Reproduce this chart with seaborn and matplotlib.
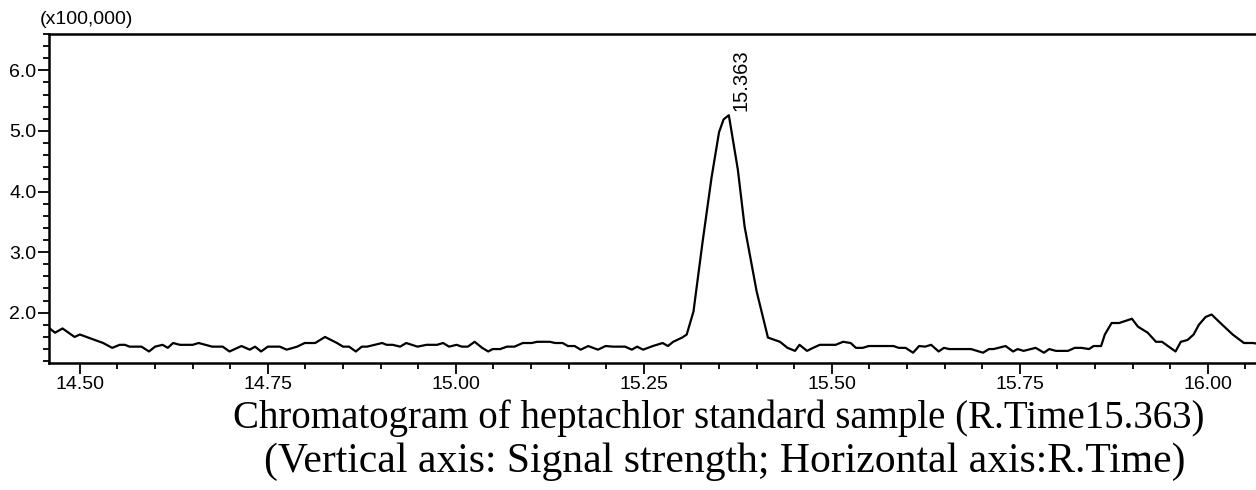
import numpy as np
import pandas as pd
import matplotlib
matplotlib.use("Agg")
import matplotlib.pyplot as plt
import seaborn as sns
from matplotlib.ticker import MultipleLocator, FormatStrFormatter

rtime = [14.459, 14.467, 14.477, 14.493, 14.500, 14.531, 14.543, 14.553, 14.560, 14.566,
         14.582, 14.592, 14.600, 14.610, 14.617, 14.624, 14.633, 14.650, 14.658, 14.676,
         14.690, 14.699, 14.715, 14.726, 14.733, 14.741, 14.750, 14.766, 14.775, 14.789,
         14.799, 14.813, 14.826, 14.842, 14.850, 14.858, 14.867, 14.875, 14.882, 14.902,
         14.908, 14.916, 14.926, 14.934, 14.949, 14.961, 14.975, 14.983, 14.991, 15.001,
         15.008, 15.016, 15.025, 15.035, 15.043, 15.049, 15.059, 15.068, 15.078, 15.089,
         15.101, 15.108, 15.125, 15.132, 15.142, 15.149, 15.158, 15.166, 15.176, 15.189,
         15.199, 15.209, 15.225, 15.234, 15.241, 15.249, 15.262, 15.275, 15.282, 15.289,
         15.301, 15.307, 15.316, 15.328, 15.340, 15.350, 15.356, 15.363, 15.375, 15.384,
         15.400, 15.415, 15.431, 15.441, 15.451, 15.457, 15.467, 15.475, 15.484, 15.505,
         15.515, 15.525, 15.532, 15.541, 15.549, 15.582, 15.589, 15.598, 15.608, 15.616,
         15.624, 15.632, 15.642, 15.649, 15.656, 15.685, 15.701, 15.709, 15.715, 15.731,
         15.741, 15.747, 15.755, 15.771, 15.782, 15.789, 15.798, 15.814, 15.823, 15.832,
         15.842, 15.848, 15.858, 15.863, 15.872, 15.882, 15.899, 15.907, 15.920, 15.931,
         15.939, 15.948, 15.957, 15.964, 15.973, 15.981, 15.988, 15.997, 16.005, 16.015,
         16.033, 16.048, 16.060, 16.070]
signal = [1.75, 1.67, 1.74, 1.60, 1.64, 1.50, 1.42, 1.47, 1.47, 1.44,
          1.44, 1.36, 1.44, 1.47, 1.42, 1.50, 1.47, 1.47, 1.50, 1.44,
          1.44, 1.36, 1.45, 1.39, 1.44, 1.36, 1.44, 1.44, 1.39, 1.44,
          1.50, 1.50, 1.60, 1.50, 1.44, 1.44, 1.36, 1.44, 1.44, 1.50,
          1.47, 1.47, 1.44, 1.50, 1.44, 1.47, 1.47, 1.50, 1.44, 1.47,
          1.44, 1.44, 1.52, 1.42, 1.36, 1.40, 1.40, 1.44, 1.44, 1.50,
          1.50, 1.52, 1.52, 1.50, 1.50, 1.45, 1.45, 1.39, 1.45, 1.39,
          1.45, 1.44, 1.44, 1.39, 1.44, 1.39, 1.45, 1.50, 1.45, 1.52,
          1.59, 1.64, 2.02, 3.16, 4.23, 4.98, 5.19, 5.26, 4.36, 3.42,
          2.35, 1.59, 1.52, 1.42, 1.37, 1.47, 1.37, 1.42, 1.47, 1.47,
          1.52, 1.50, 1.42, 1.42, 1.45, 1.45, 1.42, 1.42, 1.34, 1.45,
          1.44, 1.47, 1.36, 1.42, 1.40, 1.40, 1.34, 1.40, 1.40, 1.45,
          1.36, 1.40, 1.37, 1.42, 1.34, 1.40, 1.37, 1.37, 1.42, 1.42,
          1.40, 1.45, 1.45, 1.64, 1.83, 1.83, 1.90, 1.77, 1.67, 1.52,
          1.52, 1.44, 1.36, 1.52, 1.55, 1.64, 1.80, 1.93, 1.97, 1.85,
          1.64, 1.50, 1.50, 1.48]

peak_time = 15.363
peak_label = "15.363"
caption = ["Chromatogram of heptachlor standard sample (R.Time15.363)",
           "(Vertical axis: Signal strength; Horizontal axis:R.Time)"]

df = pd.DataFrame({"rtime": rtime, "signal": signal})

sns.set_theme(style="ticks")
plt.rcParams["font.family"] = ["Liberation Sans", "DejaVu Sans"]

fig = plt.figure(figsize=(12.56, 4.90), dpi=100)
ax = fig.add_axes([49 / 1256, 127 / 490, 1207 / 1256, 329 / 490])

sns.lineplot(data=df, x="rtime", y="signal", ax=ax, color="black", linewidth=1.6)

ax.set_xlim(14.459, 16.064)
ax.set_ylim(1.17, 6.6)
ax.xaxis.set_major_locator(MultipleLocator(0.25))
ax.xaxis.set_minor_locator(MultipleLocator(0.05))
ax.xaxis.set_major_formatter(FormatStrFormatter("%.2f"))
ax.yaxis.set_major_locator(MultipleLocator(1.0))
ax.yaxis.set_minor_locator(MultipleLocator(0.2))
ax.yaxis.set_major_formatter(FormatStrFormatter("%.1f"))
ax.set_yticks([2, 3, 4, 5, 6])
ax.tick_params(which="major", direction="out", length=8, width=1.3, labelsize=14,
               colors="black", pad=1)
ax.tick_params(which="minor", direction="out", length=4, width=1.3, colors="black")
ax.set_xlabel("")
ax.set_ylabel("")
for side in ["left", "top", "bottom"]:
    ax.spines[side].set_linewidth(1.8)
    ax.spines[side].set_color("black")
ax.spines["right"].set_visible(False)

# rótulo do pico
peak_val = df.loc[df["rtime"] == peak_time, "signal"].iloc[0]
ax.annotate(peak_label, (peak_time, peak_val), xytext=(2, 3), textcoords="offset points",
            rotation=90, ha="left", va="bottom", fontsize=14.5, color="black")

fig.text(40 / 1256, 1 - 20 / 490, "(x100,000)", ha="left", va="center", fontsize=14, color="black")

fig.text(0.572, 0.147, caption[0], ha="center", va="center", fontsize=28,
         family="Liberation Serif", color="black")
fig.text(0.577, 0.057, caption[1], ha="center", va="center", fontsize=30,
         family="Liberation Serif", color="black")

fig.savefig("out.png", dpi=100, facecolor="white")
